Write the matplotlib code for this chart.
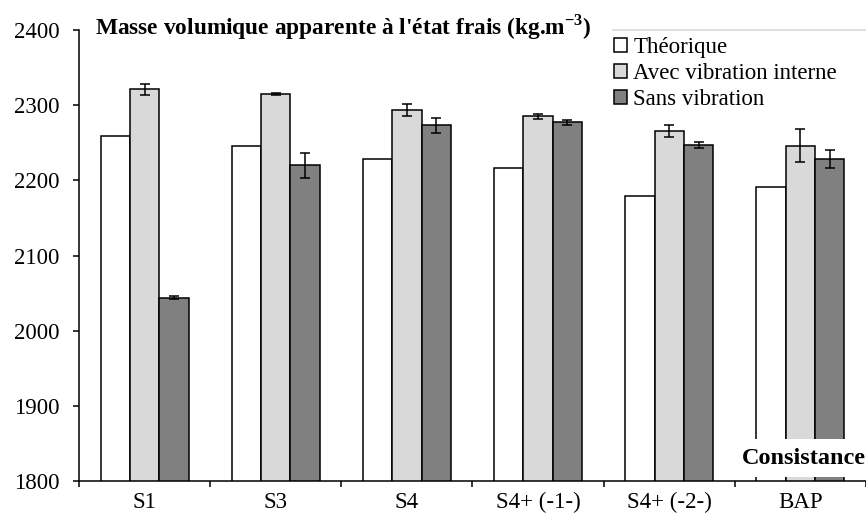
import matplotlib.pyplot as plt
import numpy as np
from matplotlib.lines import Line2D

plt.rcParams["font.family"] = ["Liberation Serif", "DejaVu Serif"]
plt.rcParams["mathtext.fontset"] = "custom"
plt.rcParams["mathtext.rm"] = "Liberation Serif"
plt.rcParams["mathtext.bf"] = "Liberation Serif:bold"

categories = ["S1", "S3", "S4", "S4+ (-1-)", "S4+ (-2-)", "BAP"]
series_names = ["Théorique", "Avec vibration interne", "Sans vibration"]
theorique = [2259, 2246, 2228, 2216, 2179, 2191]
avec_vib = [2321, 2315, 2293, 2285, 2265, 2246]
avec_vib_err = [7, 1, 8, 3, 8, 22]
sans_vib = [2044, 2220, 2273, 2277, 2247, 2228]
sans_vib_err = [2, 17, 10, 3, 4, 12]

colors = ["white", "#d9d9d9", "#808080"]
fs = 16.5

fig = plt.figure(figsize=(8.66, 5.21), dpi=100)
ax = fig.add_axes([79 / 866, 40 / 521, 787 / 866, 451 / 521])

x = np.arange(len(categories))
w = 0.224
err_kw = dict(ecolor="black", elinewidth=1.1, capsize=3.3, capthick=1.1)

ax.bar(x - w, theorique, w, color=colors[0], edgecolor="black", linewidth=1.1,
       label=series_names[0])
ax.bar(x, avec_vib, w, color=colors[1], edgecolor="black", linewidth=1.1,
       yerr=avec_vib_err, error_kw=err_kw, label=series_names[1])
ax.bar(x + w, sans_vib, w, color=colors[2], edgecolor="black", linewidth=1.1,
       yerr=sans_vib_err, error_kw=err_kw, label=series_names[2])

ax.set_ylim(1800, 2400)
ax.set_yticks(range(1800, 2401, 100))
ax.set_xlim(-0.5, -0.5 + 787 / 132)

# ticks at group boundaries, labels at group centers
ax.set_xticks(np.arange(len(categories) + 1) - 0.5)
ax.set_xticklabels([])
ax.set_xticks(x, minor=True)
ax.set_xticklabels(categories, minor=True)
ax.tick_params(axis="x", which="major", length=4, width=1.1, direction="out")
ax.tick_params(axis="x", which="minor", length=0, pad=8, labelsize=fs)
ax.tick_params(axis="y", length=4, width=1.1, direction="out", labelsize=fs, pad=10)

for s in ["top", "right"]:
    ax.spines[s].set_visible(False)
for s in ["left", "bottom"]:
    ax.spines[s].set_linewidth(1.1)

fig.text(95 / 866, 1 - 27 / 521,
         "Masse volumique apparente à l'état frais (kg.m$^{\\mathbf{-3}}$)",
         fontsize=16.8, fontweight="bold", va="center", ha="left")

leg = ax.legend(loc="upper left", bbox_to_anchor=(614 / 866, 1 - 37 / 521),
                bbox_transform=fig.transFigure, frameon=False,
                prop={"family": ["Liberation Serif"], "size": fs},
                handlelength=0.55, handleheight=0.55, handletextpad=0.3,
                labelspacing=0.22, borderpad=0, borderaxespad=0)
fig.add_artist(Line2D([613 / 866, 1.0], [1 - 30 / 521, 1 - 30 / 521],
                      color="#d9d9d9", linewidth=1.2))

fig.text(1.0, 1 - 458 / 521, "Consistance", fontsize=17.5, fontweight="bold",
         ha="right", va="center",
         bbox=dict(facecolor="white", edgecolor="none", pad=6))

fig.savefig("out.png", dpi=100)
